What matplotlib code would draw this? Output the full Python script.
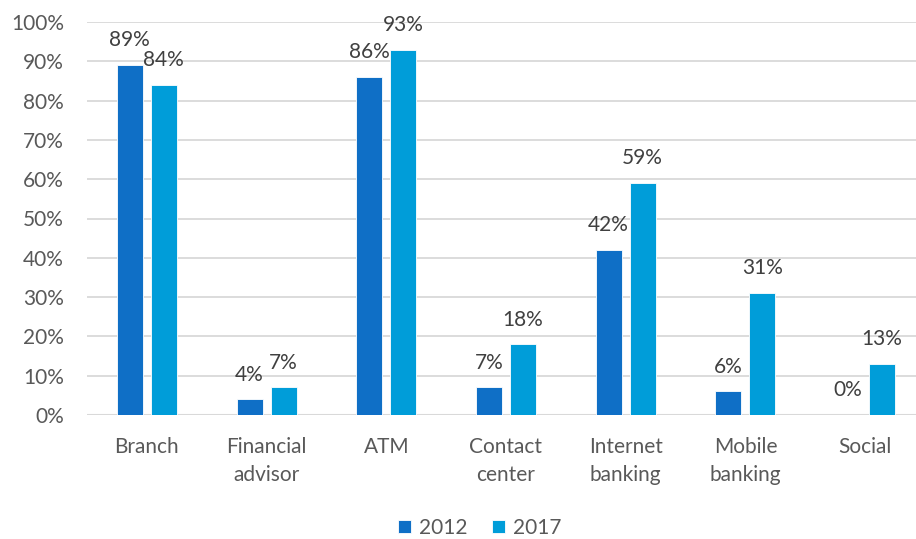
import matplotlib
matplotlib.use("Agg")
import matplotlib.pyplot as plt
import numpy as np

categories = ["Branch", "Financial\nadvisor", "ATM", "Contact\ncenter",
              "Internet\nbanking", "Mobile\nbanking", "Social"]
series_2012 = [89, 4, 86, 7, 42, 6, 0]
series_2017 = [84, 7, 93, 18, 59, 31, 13]
series_names = ["2012", "2017"]
y_ticks = list(range(0, 101, 10))

color_2012 = "#0F6FC6"
color_2017 = "#009DD9"
text_color = "#595959"
label_color = "#404040"

plt.rcParams["font.family"] = ["Lato", "DejaVu Sans"]

fig = plt.figure(figsize=(9.16, 5.39), dpi=100)
ax = fig.add_axes([87 / 916, 1 - 415 / 539, 838 / 916, (415 - 22) / 539])

x = np.arange(len(categories))
width = 0.217
offset = 0.142

bars1 = ax.bar(x - offset, series_2012, width, color=color_2012,
               edgecolor="white", linewidth=0.6, label=series_names[0], zorder=3)
bars2 = ax.bar(x + offset, series_2017, width, color=color_2017,
               edgecolor="white", linewidth=0.6, label=series_names[1], zorder=3)

for bars, vals in ((bars1, series_2012), (bars2, series_2017)):
    for b, v in zip(bars, vals):
        ax.annotate(f"{v}%", (b.get_x() + b.get_width() / 2, v),
                    xytext=(0, 13.5), textcoords="offset points",
                    ha="center", va="baseline", fontsize=15,
                    color=label_color)

ax.set_xlim(-0.5, len(categories) - 0.5)
ax.set_ylim(0, 100)
ax.set_yticks(y_ticks)
ax.set_yticklabels([f"{t}%" for t in y_ticks])
ax.set_xticks(x)
ax.set_xticklabels(categories, linespacing=1.5)

ax.grid(axis="y", color="#D9D9D9", linewidth=1.3, zorder=0)
ax.set_axisbelow(True)
for s in ("top", "right", "left", "bottom"):
    ax.spines[s].set_visible(False)
ax.axhline(0, color="#D9D9D9", linewidth=1.5, zorder=1)

ax.tick_params(axis="both", length=0, labelsize=15, colors=text_color)
ax.tick_params(axis="x", pad=16)
ax.tick_params(axis="y", pad=16.5)

leg = fig.legend(loc="center", bbox_to_anchor=(480 / 916, 1 - 528 / 539),
                 ncol=2, frameon=False, fontsize=15, handlelength=0.6,
                 handleheight=0.6, handletextpad=0.4, columnspacing=1.2)
for t in leg.get_texts():
    t.set_color(text_color)

fig.savefig("out.png", dpi=100)
